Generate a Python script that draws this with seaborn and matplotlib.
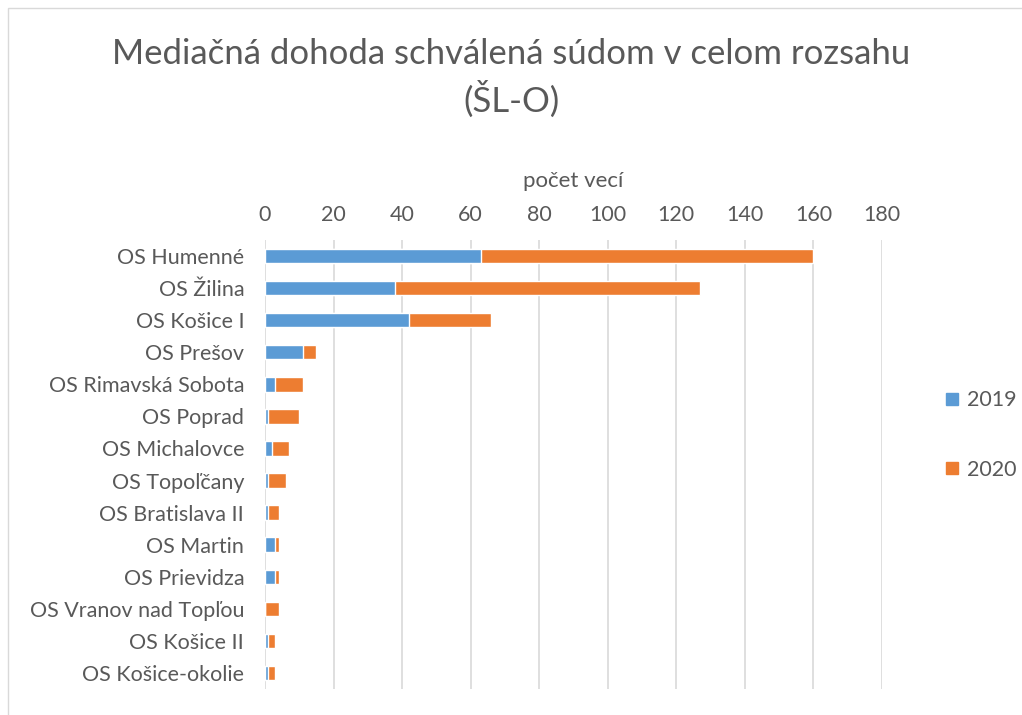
import numpy as np
import pandas as pd
import matplotlib
matplotlib.use('Agg')
import matplotlib.pyplot as plt
from matplotlib.patches import Rectangle
from matplotlib.lines import Line2D
import seaborn as sns

sns.set_theme(style='white')
plt.rcParams['font.family'] = ['Lato', 'DejaVu Sans']

courts = [
    'OS Humenné', 'OS Žilina', 'OS Košice I', 'OS Prešov',
    'OS Rimavská Sobota', 'OS Poprad', 'OS Michalovce', 'OS Topoľčany',
    'OS Bratislava II', 'OS Martin', 'OS Prievidza',
    'OS Vranov nad Topľou', 'OS Košice II', 'OS Košice-okolie',
]
v2019 = [63, 38, 42, 11, 3, 1, 2, 1, 1, 3, 3, 0, 1, 1]
v2020 = [97, 89, 24, 4, 8, 9, 5, 5, 3, 1, 1, 4, 2, 2]
xticks = [0, 20, 40, 60, 80, 100, 120, 140, 160, 180]

blue = '#5B9BD5'
orange = '#ED7D31'
txt = '#595959'

df = pd.DataFrame({'court': courts, 'y2019': v2019, 'y2020': v2020})
df['total'] = df['y2019'] + df['y2020']

fig = plt.figure(figsize=(10.22, 7.15), dpi=100)
ax = fig.add_axes([265 / 1022, 1 - 689 / 715, (882 - 265) / 1022, (689 - 240) / 715])

sns.barplot(data=df, x='total', y='court', color=orange, width=0.45,
            saturation=1, ax=ax, orient='h')
sns.barplot(data=df, x='y2019', y='court', color=blue, width=0.45,
            saturation=1, ax=ax, orient='h')

ax.set_xlim(0, 180)
ax.set_ylim(13.5, -0.5)
ax.set_xticks(xticks)
ax.xaxis.tick_top()
ax.xaxis.set_label_position('top')
ax.set_xlabel('počet vecí', fontsize=16, color=txt, labelpad=13)
ax.set_ylabel('')
ax.tick_params(axis='both', length=0, labelsize=15.5, labelcolor=txt)
ax.tick_params(axis='x', pad=11)
ax.tick_params(axis='y', pad=15)
ax.grid(axis='x', color='#D9D9D9', linewidth=1.2)
ax.set_axisbelow(True)
for s in ax.spines.values():
    s.set_visible(False)

fig.text(0.5, 1 - 54 / 715, 'Mediačná dohoda schválená súdom v celom rozsahu',
         ha='center', va='center', fontsize=25, color=txt)
fig.text(0.5, 1 - 99 / 715, '(ŠL-O)', ha='center', va='center',
         fontsize=25, color=txt)

handles = [
    Line2D([], [], marker='s', linestyle='', markersize=9,
           markerfacecolor=blue, markeredgecolor=blue, label='2019'),
    Line2D([], [], marker='s', linestyle='', markersize=9,
           markerfacecolor=orange, markeredgecolor=orange, label='2020'),
]
fig.legend(handles=handles, loc='center left',
           bbox_to_anchor=(922 / 1022, 1 - 435 / 715), frameon=False,
           fontsize=15.5, labelcolor=txt, labelspacing=2.3,
           handletextpad=0.2, handlelength=1.0)

fig.patches.append(Rectangle((8 / 1022, -0.1), 1.2, 1.1 - 8 / 715,
                             transform=fig.transFigure, fill=False,
                             edgecolor='#D9D9D9', linewidth=1))

fig.savefig('out.png', dpi=100)
